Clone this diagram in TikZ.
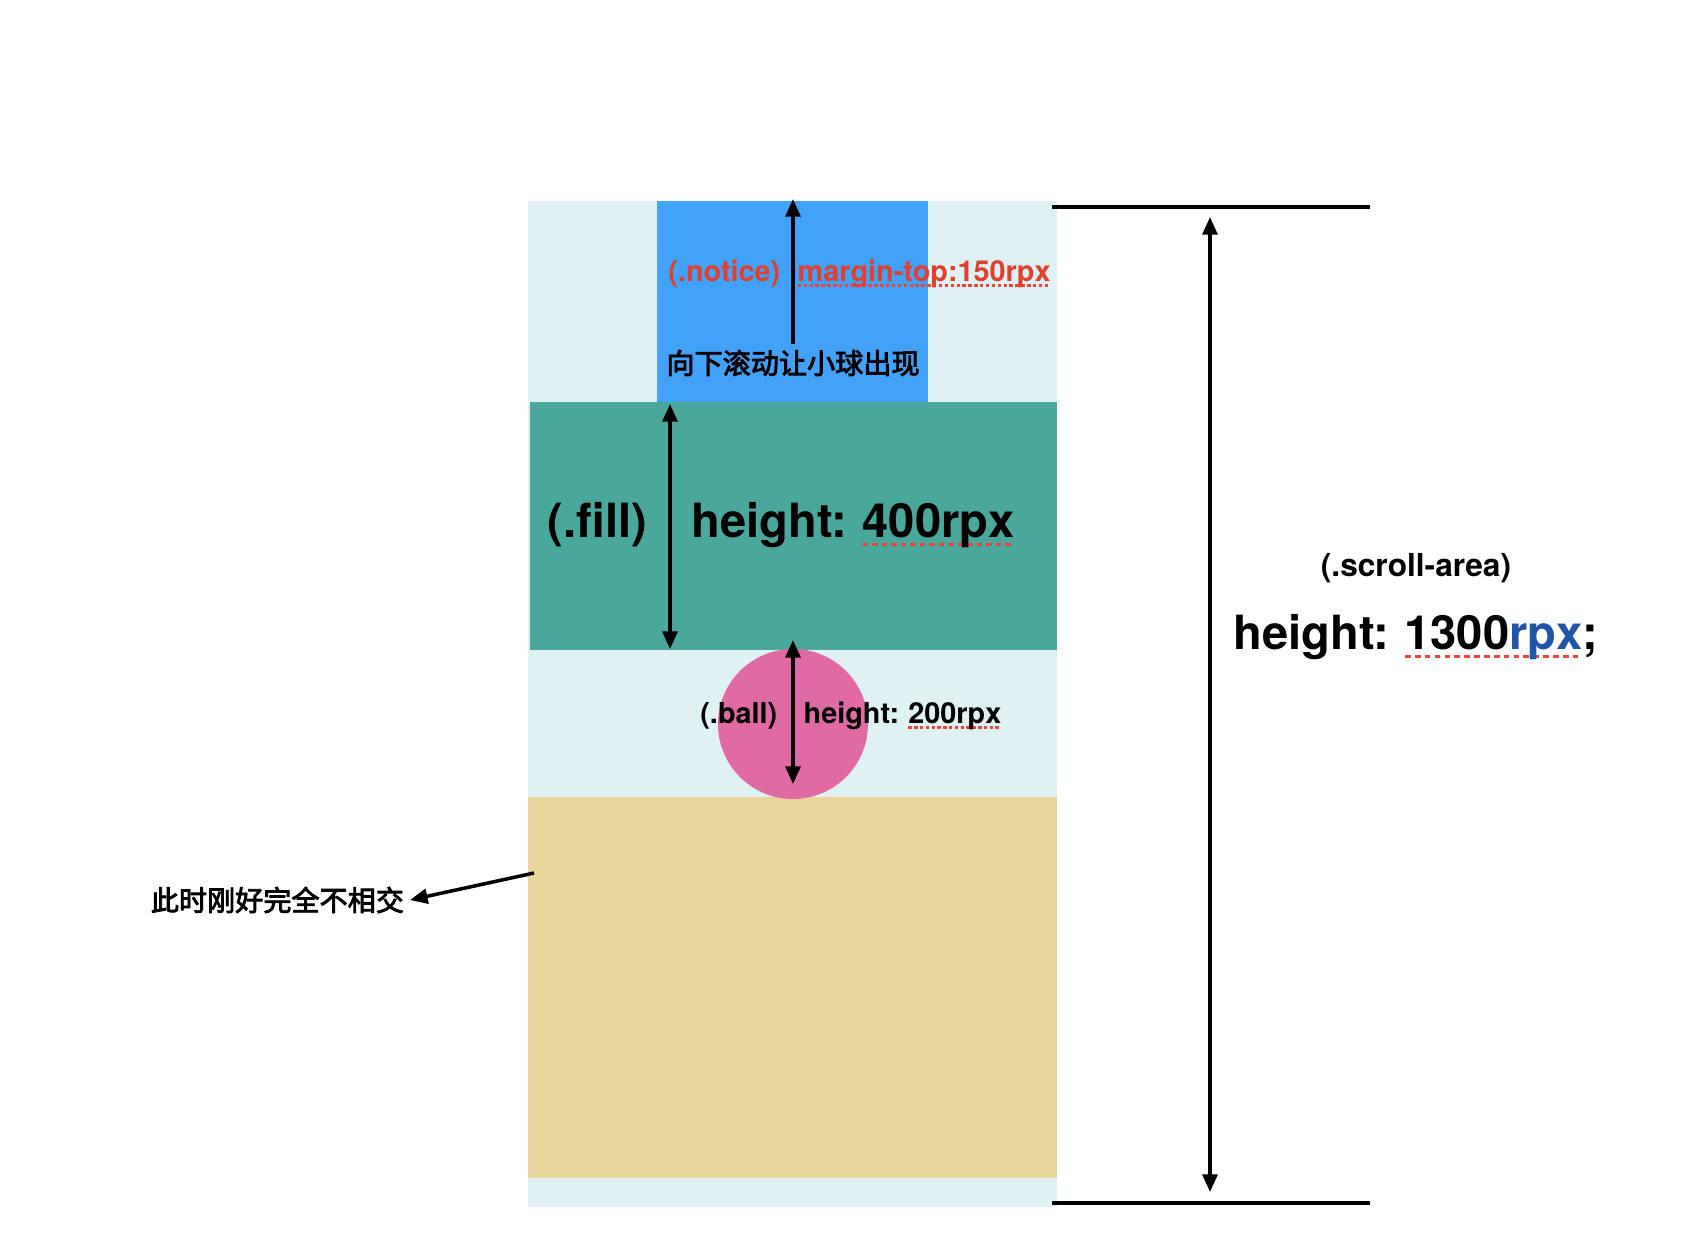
\documentclass[tikz,border=0pt]{standalone}
\usepackage{fontspec}
\setmainfont{TeX Gyre Heros}
\newfontfamily\cjk{Noto Sans CJK SC}[RawFeature={embolden=3}]
\usetikzlibrary{arrows.meta}
\definecolor{areabg}{HTML}{DFF1F3}
\definecolor{noticeblue}{HTML}{42A1F8}
\definecolor{fillteal}{HTML}{4AA79C}
\definecolor{ballpink}{HTML}{E06AA3}
\definecolor{restsand}{HTML}{E8D69B}
\definecolor{marginred}{HTML}{E0402E}
\definecolor{unitblue}{HTML}{2155A8}
\definecolor{spellred}{HTML}{E8463A}
\newsavebox\spellbox
\newcommand\spell[1]{\sbox\spellbox{#1}\rlap{\raisebox{-0.2em}{\color{spellred}\hbox to \wd\spellbox{\xleaders\hbox to 0.2em{\rule{0.12em}{0.08em}\hss}\hfill}}}\usebox\spellbox}
\newcommand\gap{\hspace{0.32em}}
\tikzset{
  dim/.style={<->,line width=1pt},
  ruler/.style={line width=0.9pt},
  bigtxt/.style={font=\bfseries\fontsize{13.4}{16}\selectfont,inner sep=0pt},
  smalltxt/.style={font=\bfseries\fontsize{8.2}{10}\selectfont,inner sep=0pt},
  cjktxt/.style={font=\cjk\fontsize{8}{10}\selectfont,inner sep=1.5pt},
}
\begin{document}
\begin{tikzpicture}[x=0.01cm,y=-0.01cm,>={Triangle[length=5pt,width=4.2pt]}]
\useasboundingbox (0,0) rectangle (1708,1238);
% blocks
\fill[areabg] (528,201) rectangle (1057,1207);
\fill[noticeblue] (657,201) rectangle (928,402);
\fill[fillteal] (530,402) rectangle (1057,650);
\fill[restsand] (528,797) rectangle (1057,1178);
\fill[ballpink] (793,724) circle (75);
% notice
\node[smalltxt,text=marginred,anchor=base east] (noticename) at (781,281) {(.notice)};
\node[smalltxt,text=marginred,anchor=base west] (noticemargin) at (797,281) {\spell{margin-top:150rpx}};
\node[cjktxt] (scrolltip) at (793,363) {向下滚动让小球出现};
\coordinate (noticetop) at (793,199);
\draw[->,line width=1pt] (scrolltip.north) -- (noticetop);
% fill
\coordinate (filltop) at (670,404);
\coordinate (fillbot) at (670,649);
\draw[dim] (filltop) -- (fillbot);
\node[bigtxt,anchor=base east] (fillname) at (648,537) {(.fill)};
\node[bigtxt,anchor=base west] (fillheight) at (691,537) {height:\gap\spell{400rpx}};
% ball
\coordinate (balltop) at (793,640);
\coordinate (ballbot) at (793,784);
\draw[dim] (balltop) -- (ballbot);
\node[smalltxt,anchor=base east] (ballname) at (778,723) {(.ball)};
\node[smalltxt,anchor=base west] (ballheight) at (803,723) {height:\gap\spell{200rpx}};
% scroll area
\coordinate (areatopl) at (1052,207);
\coordinate (areatopr) at (1370,207);
\coordinate (areabotl) at (1052,1203);
\coordinate (areabotr) at (1370,1203);
\draw[ruler] (areatopl) -- (areatopr);
\draw[ruler] (areabotl) -- (areabotr);
\coordinate (areaup) at (1210,217);
\coordinate (areadown) at (1210,1192);
\draw[dim] (areaup) -- (areadown);
\node[font=\bfseries\fontsize{9}{11}\selectfont,inner sep=0pt] (areaname) at (1416,568) {(.scroll-area)};
\node[bigtxt,anchor=base] (areaheight) at (1416,649) {height:\gap\spell{1300\textcolor{unitblue}{rpx}};};
% note
\node[cjktxt,anchor=east] (note) at (410,900) {此时刚好完全不相交};
\coordinate (sandedge) at (534,873);
\draw[->,line width=1pt] (sandedge) -- (note.east);
\end{tikzpicture}
\end{document}
